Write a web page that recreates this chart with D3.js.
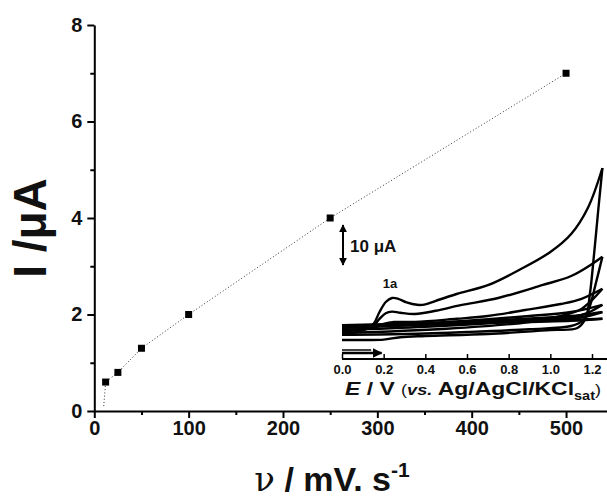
<!DOCTYPE html>
<html>
<head>
	<meta charset="utf-8">
	<script src="https://d3js.org/d3.v7.min.js"></script>
	<style type="text/css">
		body { margin: 0; background-color: #ffffff; }
		svg text { font-family: 'Liberation Sans', Arial, sans-serif; fill: #111; }
	</style>
</head>
<body>
	<div id="chart"></div>
	<script type="text/javascript">

		// main plot: peak current vs scan rate
		var scanRates = [12, 25, 50, 100, 250, 500];
		var peakCurrents = [0.6, 0.8, 1.3, 2.0, 4.0, 7.0];
		var guideX = [10, 12, 25, 50, 100, 250, 500];
		var guideY = [0.1, 0.6, 0.8, 1.3, 2.0, 4.0, 7.0];
		var xTicks = [0, 100, 200, 300, 400, 500];
		var xMinor = [50, 150, 250, 350, 450];
		var yTicks = [0, 2, 4, 6, 8];
		var yMinor = [1, 3, 5, 7];

		// inset: voltammograms, E in V, I in uA (offset)
		var insetTicks = [0.0, 0.2, 0.4, 0.6, 0.8, 1.0, 1.2];
		var cv500Fwd = [[0, 2.5], [0.1, 3], [0.15, 4.5], [0.18, 7.5], [0.21, 10], [0.24, 11], [0.27, 10.8], [0.31, 9.9], [0.36, 9.3], [0.4, 9.4], [0.45, 10.3], [0.55, 12], [0.7, 14.2], [0.85, 18], [1.0, 22.5], [1.1, 27], [1.18, 33.5], [1.25, 43.5]];
		var cv500Rev = [[1.25, 43.5], [1.23, 33], [1.21, 22], [1.19, 12], [1.17, 6], [1.13, 3.5], [1.0, 3], [0.7, 2], [0.4, 1.5], [0.28, 1.2], [0.2, 0.6], [0.12, 0.5], [0, 0.5]];
		var cv250Fwd = [[0, 2.5], [0.1, 3], [0.15, 4], [0.18, 5.8], [0.21, 7.2], [0.24, 7.6], [0.28, 7.3], [0.35, 7], [0.45, 7.8], [0.57, 9.2], [0.75, 11], [0.96, 14.2], [1.1, 16.5], [1.2, 19.5], [1.25, 21.3]];
		var cv250Rev = [[1.25, 21.3], [1.22, 15], [1.19, 9], [1.16, 5.5], [1.1, 4], [0.9, 3.2], [0.6, 2.5], [0.3, 2], [0, 1.8]];
		var cv100Fwd = [[0, 3], [0.15, 3.5], [0.2, 4.5], [0.25, 5], [0.35, 5], [0.55, 5.8], [0.7, 6.5], [0.88, 8], [1.05, 9.5], [1.15, 10.8], [1.25, 13.3]];
		var cv100Rev = [[1.25, 13.3], [1.2, 10.5], [1.14, 8], [1.05, 6.5], [0.9, 5], [0.5, 3.3], [0, 2.2]];
		var cv50Fwd = [[0, 3.5], [0.3, 4.3], [0.6, 5.3], [0.9, 6.5], [1.1, 7.5], [1.25, 9.3]];
		var cv50Rev = [[1.25, 9.3], [1.18, 7.3], [1.1, 6.2], [0.8, 5], [0.4, 3.8], [0, 3]];
		var cv25Fwd = [[0, 3.8], [0.4, 4.6], [0.8, 5.6], [1.1, 6.5], [1.25, 7.5]];
		var cv25Rev = [[1.25, 7.5], [1.15, 6.2], [0.8, 5.2], [0.4, 4.3], [0, 3.6]];
		var cv12Fwd = [[0, 4.2], [0.5, 4.8], [1.0, 5.4], [1.25, 5.8]];
		var cv12Rev = [[1.25, 5.8], [1.1, 5.3], [0.6, 4.7], [0, 4]];

		var w = 607;
		var h = 498;
		var font = "'Liberation Sans', Arial, sans-serif";

		var svg = d3.select('#chart')
			.append('svg')
			.attr('width', w)
			.attr('height', h);

		var x = d3.scaleLinear().domain([0, 545]).range([94.3, 608.5]);
		var y = d3.scaleLinear().domain([0, 8]).range([411, 25]);

		// dotted guide line
		svg.append('path')
			.datum(guideX.map(function(d, i){ return [d, guideY[i]]; }))
			.attr('d', d3.line().x(function(d){ return x(d[0]); }).y(function(d){ return y(d[1]); }))
			.attr('fill', 'none')
			.attr('stroke', '#333')
			.attr('stroke-width', 1)
			.attr('stroke-dasharray', '1,2.2');

		svg.selectAll('rect.pt')
			.data(scanRates)
			.enter()
			.append('rect')
			.attr('class', 'pt')
			.attr('x', function(d){ return x(d) - 3.5; })
			.attr('y', function(d, i){ return y(peakCurrents[i]) - 3.5; })
			.attr('width', 7)
			.attr('height', 7)
			.attr('fill', '#000');

		// axes
		svg.append('g')
			.attr('transform', 'translate(0,411)')
			.call(d3.axisBottom(x).tickValues(xTicks).tickSize(7).tickSizeOuter(0).tickPadding(3));
		svg.append('g')
			.attr('transform', 'translate(0,411)')
			.call(d3.axisBottom(x).tickValues(xMinor).tickSize(4).tickFormat(''))
			.select('.domain').remove();

		svg.append('g')
			.attr('transform', 'translate(94.3,0)')
			.call(d3.axisLeft(y).tickValues(yTicks).tickSize(7).tickSizeOuter(0).tickPadding(5));
		svg.append('g')
			.attr('transform', 'translate(94.3,0)')
			.call(d3.axisLeft(y).tickValues(yMinor).tickSize(4).tickFormat(''))
			.select('.domain').remove();

		svg.selectAll('.domain').attr('stroke', '#000').attr('stroke-width', 2);
		svg.selectAll('.tick line').attr('stroke', '#000').attr('stroke-width', 2);
		svg.selectAll('.tick text')
			.attr('font-size', '20px')
			.attr('font-weight', 'bold')
			.attr('font-family', font)
			.attr('fill', '#111');

		// axis titles
		svg.append('text')
			.attr('transform', 'translate(46,228) rotate(-90)')
			.attr('text-anchor', 'middle')
			.attr('font-size', '46px')
			.attr('font-weight', 'bold')
			.text('I /μA');

		var xt = svg.append('text')
			.attr('x', 332)
			.attr('y', 491)
			.attr('text-anchor', 'middle')
			.attr('font-size', '34px')
			.attr('font-weight', 'bold');
		xt.append('tspan').attr('font-family', "'DejaVu Serif', serif").attr('font-weight', 'normal').text('ν');
		xt.append('tspan').text(' / mV. s');
		xt.append('tspan').attr('font-size', '21px').attr('dy', -14).text('-1');

		// inset
		var ix = d3.scaleLinear().domain([0, 1.2]).range([342, 592]);
		var iy = d3.scaleLinear().domain([0, 50]).range([342, 142]);
		var cvLine = d3.line()
			.x(function(d){ return ix(d[0]); })
			.y(function(d){ return iy(d[1]); })
			.curve(d3.curveCatmullRom);

		var fwd = [cv500Fwd, cv250Fwd, cv100Fwd, cv50Fwd, cv25Fwd, cv12Fwd];
		var rev = [cv500Rev, cv250Rev, cv100Rev, cv50Rev, cv25Rev, cv12Rev];

		svg.selectAll('path.fwd')
			.data(fwd)
			.enter()
			.append('path')
			.attr('class', 'fwd')
			.attr('d', cvLine)
			.attr('fill', 'none')
			.attr('stroke', '#000')
			.attr('stroke-width', 2.4);
		svg.selectAll('path.rev')
			.data(rev)
			.enter()
			.append('path')
			.attr('class', 'rev')
			.attr('d', cvLine)
			.attr('fill', 'none')
			.attr('stroke', '#000')
			.attr('stroke-width', 2.4);

		// arrow heads
		svg.append('defs').append('marker')
			.attr('id', 'head')
			.attr('viewBox', '0 0 10 10')
			.attr('refX', 9).attr('refY', 5)
			.attr('markerWidth', 4).attr('markerHeight', 4)
			.attr('orient', 'auto-start-reverse')
			.append('path')
			.attr('d', 'M0,0 L10,5 L0,10 z')
			.attr('fill', '#000');

		// scan direction arrow
		svg.append('line')
			.attr('x1', ix(0)).attr('x2', ix(0.19))
			.attr('y1', 353).attr('y2', 353)
			.attr('stroke', '#000').attr('stroke-width', 2.5)
			.attr('marker-end', 'url(#head)');
		svg.append('line')
			.attr('x1', ix(0)).attr('x2', ix(0.14))
			.attr('y1', 350).attr('y2', 350)
			.attr('stroke', '#000').attr('stroke-width', 1.5);

		// 10 uA scale bar
		svg.append('line')
			.attr('x1', 343).attr('x2', 343)
			.attr('y1', iy(29.25)).attr('y2', iy(19.25))
			.attr('stroke', '#000').attr('stroke-width', 2)
			.attr('marker-start', 'url(#head)')
			.attr('marker-end', 'url(#head)');
		svg.append('text')
			.attr('x', 350).attr('y', 252)
			.attr('font-size', '17px')
			.attr('font-weight', 'bold')
			.text('10 μA');
		svg.append('text')
			.attr('x', 390).attr('y', 288)
			.attr('text-anchor', 'middle')
			.attr('font-size', '13px')
			.attr('font-weight', 'bold')
			.text('1a');

		// inset axis
		var insetAxis = svg.append('g')
			.attr('transform', 'translate(0,359)')
			.call(d3.axisTop(ix).tickValues(insetTicks).tickSize(5).tickSizeOuter(0).tickFormat(d3.format('.1f')));
		insetAxis.select('.domain').attr('d', 'M' + ix(0) + ',0H607').attr('stroke', '#000').attr('stroke-width', 2);
		insetAxis.selectAll('.tick line').attr('stroke', '#000').attr('stroke-width', 1.5);
		insetAxis.selectAll('.tick text')
			.attr('y', 15)
			.attr('font-size', '13px')
			.attr('font-weight', 'bold')
			.attr('font-family', font)
			.attr('fill', '#111');

		var et = svg.append('text')
			.attr('x', 345)
			.attr('y', 395)
			.attr('font-size', '19px')
			.attr('font-weight', 'bold')
			.attr('textLength', 256)
			.attr('lengthAdjust', 'spacingAndGlyphs');
		et.append('tspan').attr('font-style', 'italic').text('E');
		et.append('tspan').text(' / V ');
		et.append('tspan').attr('font-size', '15px').attr('font-weight', 'normal').text('(');
		et.append('tspan').attr('font-size', '15px').attr('font-style', 'italic').text('vs.');
		et.append('tspan').text(' Ag/AgCl/KCl');
		et.append('tspan').attr('font-size', '12px').attr('dy', 5).text('sat');
		et.append('tspan').attr('font-size', '15px').attr('font-weight', 'normal').attr('dy', -5).text(')');

	</script>
</body>
</html>
